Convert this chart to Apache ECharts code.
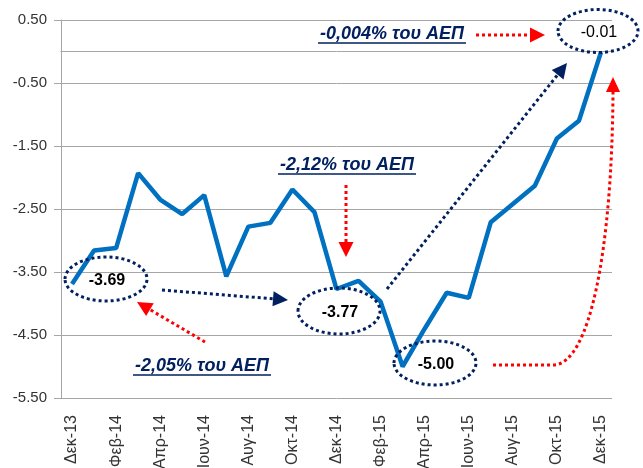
<!DOCTYPE html>
<html>
<head>
<meta charset="utf-8">
<script src="https://cdn.jsdelivr.net/npm/echarts@6/dist/echarts.min.js"></script>
<style>
  html, body { margin: 0; padding: 0; background: #fff; }
  #main { width: 643px; height: 468px; }
</style>
</head>
<body>
<div id="main"></div>
<script>
const months = ['Δεκ-13', 'Ιαν-14', 'Φεβ-14', 'Μαρ-14', 'Απρ-14', 'Μαϊ-14', 'Ιουν-14', 'Ιουλ-14',
  'Αυγ-14', 'Σεπ-14', 'Οκτ-14', 'Νοε-14', 'Δεκ-14', 'Ιαν-15', 'Φεβ-15', 'Μαρ-15', 'Απρ-15',
  'Μαϊ-15', 'Ιουν-15', 'Ιουλ-15', 'Αυγ-15', 'Σεπ-15', 'Οκτ-15', 'Νοε-15', 'Δεκ-15'];
const balance = [-3.69, -3.16, -3.12, -1.93, -2.35, -2.58, -2.28, -3.57, -2.78, -2.72, -2.19, -2.55,
  -3.77, -3.64, -3.97, -5.00, -4.40, -3.83, -3.91, -2.71, -2.42, -2.13, -1.38, -1.10, -0.01];
const yMin = -5.5, yMax = 0.5, yStep = 1;

// annotation texts
const bubbles = ['-3.69', '-3.77', '-5.00', '-0.01'];
const notes = ['-0,004% του ΑΕΠ', '-2,12% του ΑΕΠ', '-2,05% του ΑΕΠ'];

const NAVY = '#002060', RED = '#ff0000', GRID = '#a6a6a6';
const FONT = '"Liberation Sans", Arial, sans-serif';
const dots = { lineWidth: 3, lineDash: [3, 3] };

// dotted line with a triangle head at (x2, y2)
function arrow(x1, y1, x2, y2, color) {
  const len = Math.hypot(x2 - x1, y2 - y1);
  const ux = (x2 - x1) / len, uy = (y2 - y1) / len;
  const bx = x2 - ux * 15, by = y2 - uy * 15;
  return [
    { type: 'line', shape: { x1, y1, x2: bx, y2: by }, style: { stroke: color, ...dots }, z: 10 },
    { type: 'polygon', shape: { points: [[x2, y2], [bx - uy * 7.5, by + ux * 7.5], [bx + uy * 7.5, by - ux * 7.5]] },
      style: { fill: color }, z: 10 }
  ];
}
function bubble(cx, cy, rx, ry, text, bold) {
  return [
    { type: 'ellipse', shape: { cx, cy, rx, ry }, style: { fill: 'none', stroke: NAVY, ...dots }, z: 10 },
    { type: 'text', x: cx + 1, y: cy + 2, z: 11,
      style: { text, font: (bold ? 'bold ' : '') + '16px ' + FONT, fill: '#000', align: 'center', verticalAlign: 'middle' } }
  ];
}
function note(x1, x2, cy, text) {
  return [
    { type: 'text', x: (x1 + x2) / 2, y: cy, z: 11,
      style: { text, font: 'italic bold 18px ' + FONT, fill: NAVY, align: 'center', verticalAlign: 'middle' } },
    { type: 'line', shape: { x1, y1: cy + 9, x2, y2: cy + 9 }, style: { stroke: NAVY, lineWidth: 1.5 }, z: 11 }
  ];
}

const graphics = [].concat(
  bubble(106, 279, 41, 22, bubbles[0], true),
  bubble(339, 311, 41, 23, bubbles[1], true),
  bubble(435, 363, 41, 22, bubbles[2], true),
  bubble(598, 31, 40, 21.5, bubbles[3], false),
  note(318, 466, 34, notes[0]),
  note(278, 416, 165, notes[1]),
  note(133, 271, 366, notes[2]),
  arrow(476, 35, 545, 35, RED),
  arrow(346, 185, 346, 257, RED),
  arrow(205, 342, 137, 302, RED),
  arrow(162, 290, 288, 300, NAVY),
  arrow(387, 289, 567, 63, NAVY),
  [
    { type: 'line', shape: { x1: 493, y1: 365, x2: 553, y2: 365 }, style: { stroke: RED, ...dots }, z: 10 },
    { type: 'bezierCurve', shape: { x1: 553, y1: 365, cpx1: 590, cpy1: 365, cpx2: 612, cpy2: 250, x2: 613, y2: 92 },
      style: { stroke: RED, fill: 'none', ...dots }, z: 10 },
    { type: 'polygon', shape: { points: [[613, 77], [606, 92], [620, 92]] }, style: { fill: RED }, z: 10 }
  ]
);

const chart = echarts.init(document.getElementById('main'));
const option = {
  animation: false,
  grid: { left: 61, right: 31, top: 20, bottom: 70, outerBoundsMode: 'none' },
  xAxis: [{
    type: 'category',
    data: months,
    position: 'bottom',
    axisLine: { show: false, onZero: false },
    axisTick: { show: false },
    axisLabel: { interval: 1, rotate: 90, margin: 17, fontSize: 16, fontFamily: FONT, color: '#333' }
  }, {
    type: 'category',
    data: months,
    position: 'bottom',
    axisLine: { onZero: true, lineStyle: { color: GRID, width: 1 } },
    axisTick: { interval: 1, length: 5, lineStyle: { color: GRID } },
    axisLabel: { show: false }
  }],
  yAxis: {
    type: 'value',
    min: yMin,
    max: yMax,
    interval: yStep,
    axisLine: { show: true, lineStyle: { color: GRID } },
    axisTick: { show: true, length: 7, lineStyle: { color: GRID } },
    axisLabel: { formatter: v => v.toFixed(2), fontSize: 15, fontFamily: FONT, color: '#333', margin: 14 },
    splitLine: { lineStyle: { color: GRID, width: 1 } }
  },
  series: [{
    type: 'line',
    data: balance,
    showSymbol: false,
    lineStyle: { color: '#0070c0', width: 4.5 },
    z: 5
  }],
  graphic: graphics
};
chart.setOption(option);
window.addEventListener('resize', () => chart.resize());
</script>
</body>
</html>
